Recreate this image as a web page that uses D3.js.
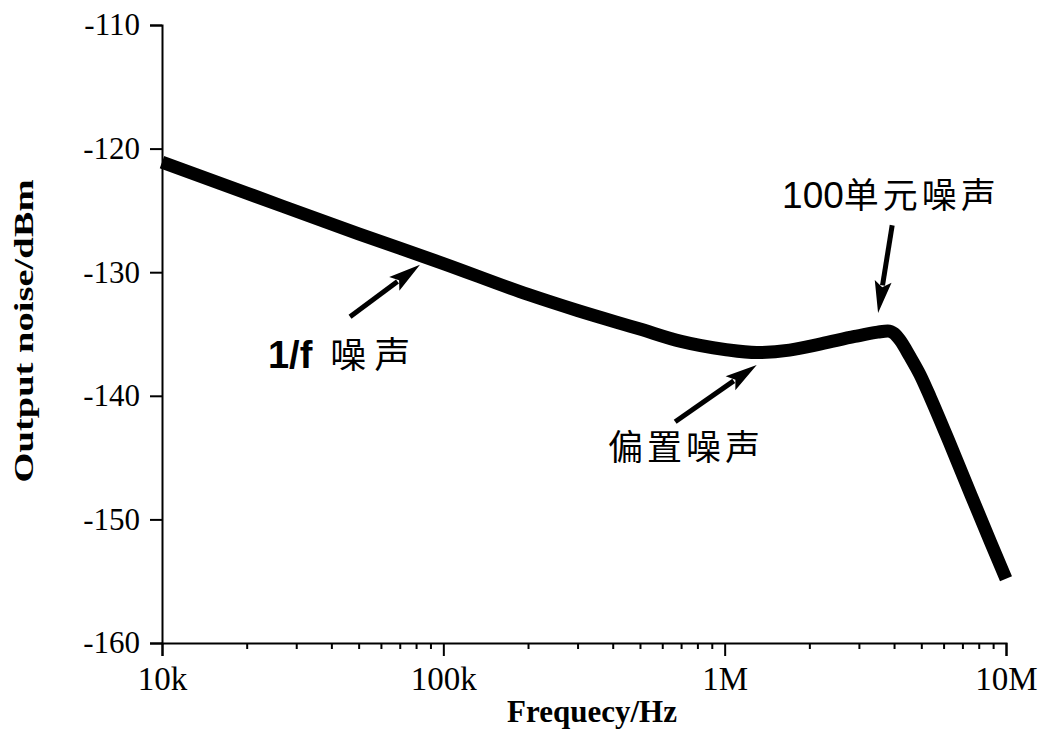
<!DOCTYPE html>
<html>
<head>
<meta charset="utf-8">
<script src="https://cdn.jsdelivr.net/npm/d3@7"></script>
<style>
  body { margin: 0; background: #fff; }
  svg { display: block; }
</style>
</head>
<body>
<svg></svg>
<script>
// Chart data
var freq = [10e3, 20e3, 50e3, 100e3, 200e3, 300e3, 500e3, 700e3, 1e6, 1.3e6, 1.7e6,
            2.2e6, 2.9e6, 3.5e6, 3.8e6, 4.0e6, 4.2e6, 4.55e6, 4.95e6, 5.4e6, 6.3e6, 7.5e6, 8.8e6, 10e6];
var noise = [-121.1, -123.6, -126.9, -129.3, -131.8, -133.1, -134.6, -135.6, -136.25, -136.5, -136.3,
             -135.8, -135.2, -134.85, -134.75, -134.95, -135.5, -136.8, -138.3, -140.2, -143.8, -148.0, -151.8, -154.8];

var yTicks = [-110, -120, -130, -140, -150, -160];
var xTicks = [1e4, 1e5, 1e6, 1e7];
var xTickLabels = ["10k", "100k", "1M", "10M"];

// annotations: arrow tail / tip and text anchor in data units
var arrowTailF = [46.6e3, 667e3, 3.94e6];
var arrowTailDb = [-133.6, -142.1, -126.2];
var arrowTipF = [82.6e3, 1.30e6, 3.51e6];
var arrowTipDb = [-129.4, -137.5, -133.3];
var labelF = [23.8e3, 385e3, 1.60e6];
var labelDb = [-137.75, -145.2, -124.8];

var w = 1047, h = 754;

var svg = d3.select("svg")
    .attr("width", w)
    .attr("height", h);

var x = d3.scaleLog().domain([1e4, 1e7]).range([162, 1006]);
var y = d3.scaleLinear().domain([-160, -110]).range([643, 25]);

// Y axis
var yAxis = svg.append("g")
    .attr("transform", "translate(" + x.range()[0] + ",0)")
    .call(d3.axisLeft(y).tickValues(yTicks).tickSize(12).tickPadding(10)
        .tickFormat(function (d) { return String(d); }));
yAxis.attr("font-family", "'Liberation Serif', 'Times New Roman', serif")
    .attr("font-size", 31);

// X axis, major ticks
var xAxis = svg.append("g")
    .attr("transform", "translate(0," + y.range()[0] + ")")
    .call(d3.axisBottom(x).tickValues(xTicks).tickSize(13).tickPadding(11)
        .tickFormat(function (d, i) { return xTickLabels[i]; }));
xAxis.attr("font-family", "'Liberation Serif', 'Times New Roman', serif")
    .attr("font-size", 33);

// X axis, minor ticks 2..9 of each decade
var minor = [];
[1e4, 1e5, 1e6].forEach(function (dec) {
    for (var k = 2; k <= 9; k++) minor.push(dec * k);
});
var xMinor = svg.append("g")
    .attr("transform", "translate(0," + y.range()[0] + ")")
    .call(d3.axisBottom(x).tickValues(minor).tickSize(6).tickFormat(""));
xMinor.select(".domain").remove();

svg.selectAll(".domain, .tick line")
    .attr("stroke", "#000")
    .attr("stroke-width", 2);

// axis titles
svg.append("text")
    .attr("x", 592)
    .attr("y", 722)
    .attr("text-anchor", "middle")
    .attr("font-family", "'Liberation Serif', 'Times New Roman', serif")
    .attr("font-weight", "bold")
    .attr("font-size", 31)
    .text("Frequecy/Hz");

svg.append("text")
    .attr("transform", "translate(33,331) rotate(-90)")
    .attr("text-anchor", "middle")
    .attr("font-family", "'Liberation Serif', 'Times New Roman', serif")
    .attr("font-weight", "bold")
    .attr("font-size", 27)
    .attr("textLength", 303)
    .attr("lengthAdjust", "spacingAndGlyphs")
    .text("Output noise/dBm");

// the noise curve
var line = d3.line()
    .x(function (d, i) { return x(freq[i]); })
    .y(function (d) { return y(d); })
    .curve(d3.curveMonotoneX);

svg.append("path")
    .datum(noise)
    .attr("d", line)
    .attr("fill", "none")
    .attr("stroke", "#000")
    .attr("stroke-width", 13)
    .attr("stroke-linejoin", "round");

// arrows
function drawArrow(x0, y0, x1, y1) {
    var dx = x1 - x0, dy = y1 - y0;
    var len = Math.sqrt(dx * dx + dy * dy);
    var ux = dx / len, uy = dy / len;
    var headLen = 32, headW = 8.5;
    var bx = x1 - ux * headLen, by = y1 - uy * headLen;
    svg.append("line")
        .attr("x1", x0).attr("y1", y0)
        .attr("x2", bx + ux * 4).attr("y2", by + uy * 4)
        .attr("stroke", "#000")
        .attr("stroke-width", 5);
    var pts = [
        [x1, y1],
        [bx - uy * headW, by + ux * headW],
        [bx + ux * 6, by + uy * 6],
        [bx + uy * headW, by - ux * headW]
    ];
    svg.append("polygon")
        .attr("points", pts.map(function (p) { return p.join(","); }).join(" "))
        .attr("fill", "#000");
}

for (var i = 0; i < arrowTailF.length; i++) {
    drawArrow(x(arrowTailF[i]), y(arrowTailDb[i]), x(arrowTipF[i]), y(arrowTipDb[i]));
}

// labels
var cjk = "'Noto Sans CJK SC', 'Noto Sans', sans-serif";

var t0 = svg.append("text")
    .attr("x", x(labelF[0]))
    .attr("y", y(labelDb[0]));
t0.append("tspan")
    .attr("font-family", "'Liberation Sans', Arial, sans-serif")
    .attr("font-weight", "bold")
    .attr("font-size", 38)
    .text("1/f");
t0.append("tspan")
    .attr("dx", 18)
    .attr("font-family", cjk)
    .attr("font-size", 36)
    .attr("letter-spacing", 8)
    .text("噪声");

svg.append("text")
    .attr("x", x(labelF[1]))
    .attr("y", y(labelDb[1]))
    .attr("font-family", cjk)
    .attr("font-size", 35)
    .attr("letter-spacing", 4)
    .text("偏置噪声");

var t2 = svg.append("text")
    .attr("x", x(labelF[2]))
    .attr("y", y(labelDb[2]));
t2.append("tspan")
    .attr("font-family", "'Liberation Sans', Arial, sans-serif")
    .attr("font-size", 37)
    .text("100");
t2.append("tspan")
    .attr("font-family", cjk)
    .attr("font-size", 35)
    .attr("letter-spacing", 4)
    .text("单元噪声");
</script>
</body>
</html>
